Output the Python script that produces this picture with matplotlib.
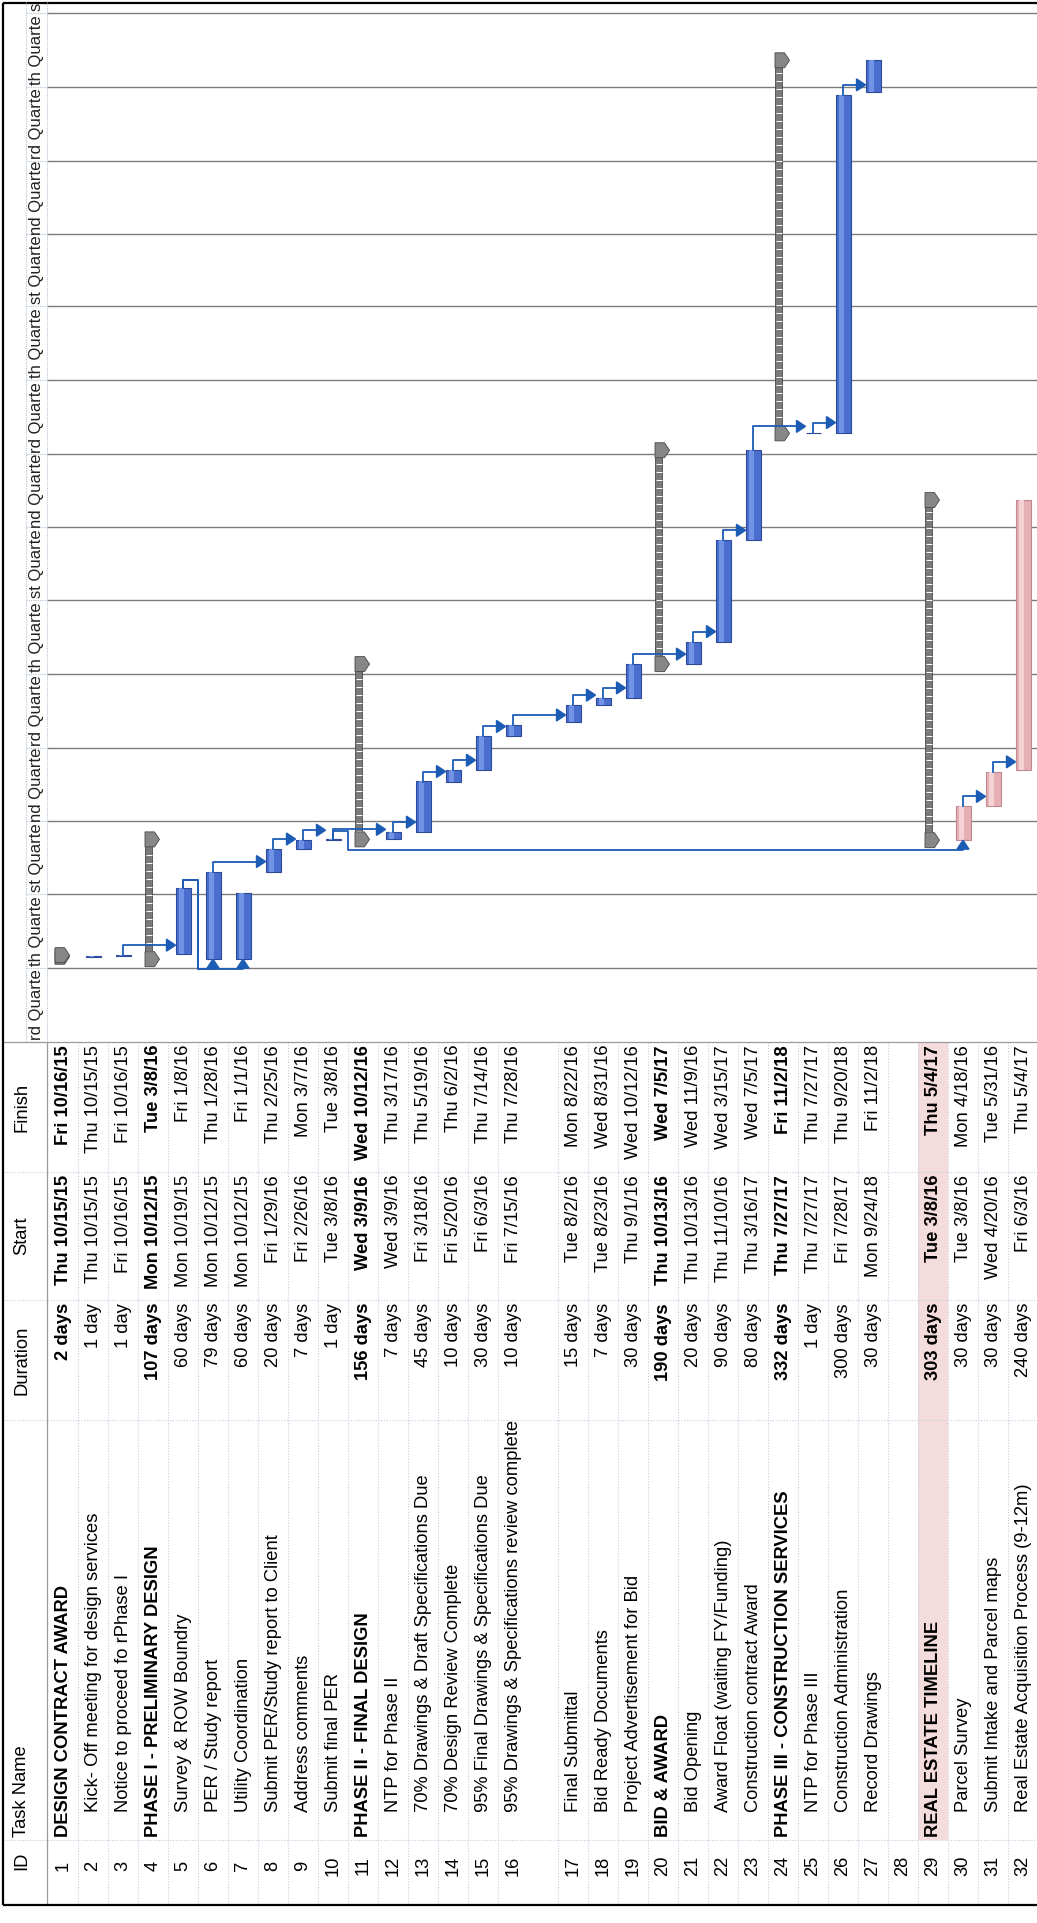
import datetime as dt
import matplotlib
matplotlib.use("Agg")
import matplotlib.pyplot as plt
import matplotlib.dates as mdates
import pandas as pd
from matplotlib.patches import Polygon, Rectangle

plt.rcParams['font.family'] = ['Liberation Sans', 'DejaVu Sans']

# ---------------- data ----------------
task_ids = list(range(1, 33))
task_names = [
    "DESIGN CONTRACT AWARD",
    "Kick- Off meeting for design services",
    "Notice to proceed fo rPhase I",
    "PHASE I - PRELIMINARY DESIGN",
    "Survey & ROW Boundry",
    "PER / Study report",
    "Utility Coordination",
    "Submit PER/Study report to Client",
    "Address comments",
    "Submit final PER",
    "PHASE II - FINAL DESIGN",
    "NTP for Phase II",
    "70% Drawings & Draft Specifications Due",
    "70% Design Review Complete",
    "95% Final Drawings & Specifications Due",
    "95% Drawings & Specifications review complete",
    "Final Submittal",
    "Bid Ready Documents",
    "Project Advertisement for Bid",
    "BID & AWARD",
    "Bid Opening",
    "Award Float (waiting FY/Funding)",
    "Construction contract Award",
    "PHASE III - CONSTRUCTION SERVICES",
    "NTP for Phase III",
    "Construction Administration",
    "Record Drawings",
    "",
    "REAL ESTATE TIMELINE",
    "Parcel Survey",
    "Submit Intake and Parcel maps",
    "Real Estate Acquisition Process (9-12m)",
]
durations = ["2 days", "1 day", "1 day", "107 days", "60 days", "79 days", "60 days",
             "20 days", "7 days", "1 day", "156 days", "7 days", "45 days", "10 days",
             "30 days", "10 days", "15 days", "7 days", "30 days", "190 days", "20 days",
             "90 days", "80 days", "332 days", "1 day", "300 days", "30 days", "",
             "303 days", "30 days", "30 days", "240 days"]
starts = ["Thu 10/15/15", "Thu 10/15/15", "Fri 10/16/15", "Mon 10/12/15", "Mon 10/19/15",
          "Mon 10/12/15", "Mon 10/12/15", "Fri 1/29/16", "Fri 2/26/16", "Tue 3/8/16",
          "Wed 3/9/16", "Wed 3/9/16", "Fri 3/18/16", "Fri 5/20/16", "Fri 6/3/16",
          "Fri 7/15/16", "Tue 8/2/16", "Tue 8/23/16", "Thu 9/1/16", "Thu 10/13/16",
          "Thu 10/13/16", "Thu 11/10/16", "Thu 3/16/17", "Thu 7/27/17", "Thu 7/27/17",
          "Fri 7/28/17", "Mon 9/24/18", "", "Tue 3/8/16", "Tue 3/8/16", "Wed 4/20/16",
          "Fri 6/3/16"]
finishes = ["Fri 10/16/15", "Thu 10/15/15", "Fri 10/16/15", "Tue 3/8/16", "Fri 1/8/16",
            "Thu 1/28/16", "Fri 1/1/16", "Thu 2/25/16", "Mon 3/7/16", "Tue 3/8/16",
            "Wed 10/12/16", "Thu 3/17/16", "Thu 5/19/16", "Thu 6/2/16", "Thu 7/14/16",
            "Thu 7/28/16", "Mon 8/22/16", "Wed 8/31/16", "Wed 10/12/16", "Wed 7/5/17",
            "Wed 11/9/16", "Wed 3/15/17", "Wed 7/5/17", "Fri 11/2/18", "Thu 7/27/17",
            "Thu 9/20/18", "Fri 11/2/18", "", "Thu 5/4/17", "Mon 4/18/16", "Tue 5/31/16",
            "Thu 5/4/17"]
summary_ids = [1, 4, 11, 20, 24, 29]
real_estate_ids = [30, 31, 32]
highlight_ids = [29]
links = [(3, 5), (5, 6), (5, 7), (6, 8), (8, 9), (9, 10), (10, 12), (10, 30),
         (12, 13), (13, 14), (14, 15), (15, 16), (16, 17), (17, 18), (18, 19),
         (19, 21), (21, 22), (22, 23), (23, 25), (25, 26), (26, 27), (30, 31), (31, 32)]
quarter_names = ["1st Quarter", "2nd Quarter", "3rd Quarter", "4th Quarter"]
view_start = dt.datetime(2015, 7, 1)
view_end = dt.datetime(2019, 1, 17)

# ---------------- layout ----------------
W, H = 1037, 1923
CHART_BOTTOM = 1042
TABLE_BOTTOM = 1905
HDR = 47
FS = 13.2
LINK = '#1c5cb4'


def dnum(s):
    return mdates.date2num(dt.datetime.strptime(s, "%a %m/%d/%y"))


start_num = [dnum(s) if s else None for s in starts]
fin_num = [dnum(s) if s else None for s in finishes]

row_top = []
y = 48
for tid in task_ids:
    row_top.append(y)
    y += 60 if tid == 16 else 30
row_bounds = row_top + [y]
row_ctr = [t + 15 for t in row_top]

fig = plt.figure(figsize=(W / 100, H / 100), dpi=100)
fig.patch.set_facecolor('white')

axp = fig.add_axes([0, 0, 1, 1])
axp.set_xlim(0, W)
axp.set_ylim(H, 0)
axp.axis('off')

ax = fig.add_axes([0, 1 - CHART_BOTTOM / H, 1, CHART_BOTTOM / H])
d0, d1 = mdates.date2num(view_start), mdates.date2num(view_end)
ax.set_xlim(0, W)
ax.set_ylim(d0, d1)
ax.axis('off')
ax.patch.set_alpha(0)
DPD = (d1 - d0) / CHART_BOTTOM   # days per pixel

# ---------------- timescale strip + gridlines ----------------
qb = pd.date_range("2015-07-01", "2019-04-01", freq="QS")
qn = mdates.date2num(qb.to_pydatetime())
ax.hlines(qn[1:], HDR, W, colors='#7c7c7c', lw=1.0, zorder=1)
ax.hlines(qn, 26, HDR, colors='#b7c4d6', lw=0.8, linestyles=(0, (1, 1)))
ax.vlines([26, HDR], d0, d1, colors='#b7c4d6', lw=0.8, linestyles=(0, (1, 1)))
for qs, qe, q in zip(qn[:-1], qn[1:], qb[:-1]):
    # the cell is narrower than its label, so only the middle of it shows
    label = quarter_names[(q.month - 1) // 3][1:-1]
    if qe <= d1:
        ax.text(36.5, (qs + qe) / 2, label, rotation=90, rotation_mode='anchor',
                ha='center', va='center', fontsize=12, color='#222222')
    else:
        # last cell is cut by the top edge: only its first letter shows
        ax.text(36.5, qs + 1.5 * DPD, label[:1], rotation=90, rotation_mode='anchor',
                ha='left', va='center', fontsize=12, color='#222222')

# ---------------- bars ----------------
for i, tid in enumerate(task_ids):
    if start_num[i] is None:
        continue
    s, e = start_num[i], fin_num[i] + 1
    c = row_ctr[i]
    if tid in summary_ids:
        ax.bar(c - 4.5, e - s, width=7, bottom=s, color='#7a7a7a',
               edgecolor='#474747', lw=0.6, zorder=3)
        n = int((e - s) / (8 * DPD))
        if n > 1:
            ys = [s + (k + 1) * 8 * DPD for k in range(n - 1)]
            ax.plot([c - 4.5] * len(ys), ys, ls='none', marker='_', ms=4,
                    mew=0.7, color='white', zorder=4)
        hh = 7.5 * DPD
        for yc in (s, e):
            ax.add_patch(Polygon([(c - 8, yc - hh), (c + 1.5, yc - hh), (c + 6.5, yc),
                                  (c + 1.5, yc + hh), (c - 8, yc + hh)], closed=True,
                                 facecolor='#878787', edgecolor='#474747', lw=0.6,
                                 zorder=4))
    else:
        if tid in real_estate_ids:
            face, edge, hi = '#e6afb4', '#c08890', '#f4d2d5'
        else:
            face, edge, hi = '#4a6ecd', '#2b4a9c', '#7193e6'
        ax.bar(c, e - s, width=15, bottom=s, color=face, edgecolor=edge, lw=0.8,
               zorder=3)
        ax.bar(c - 1.5, e - s, width=5, bottom=s, color=hi, lw=0, zorder=3.5)

# ---------------- dependency links ----------------
for p, q in links:
    ip, iq = p - 1, q - 1
    xp, xs = row_ctr[ip], row_ctr[iq]
    top_p = fin_num[ip] + 1
    bot_s = start_num[iq]
    if bot_s >= top_p - 0.01:
        level = max(top_p + 10 * DPD, bot_s + 7 * DPD)
        tip = xs - 7.5
        ax.plot([xp, xp, tip - 8], [top_p, level, level], color=LINK, lw=1.3, zorder=5)
        ax.add_patch(Polygon([(tip, level), (tip - 9, level + 6 * DPD),
                              (tip - 9, level - 6 * DPD)], closed=True,
                             color=LINK, zorder=5))
    else:
        # successor starts before predecessor ends: route round below it
        y1 = top_p + 8 * DPD
        xm = xp + 15
        y2 = bot_s - 10 * DPD
        ax.plot([xp, xp, xm, xm, xs, xs], [top_p, y1, y1, y2, y2, bot_s - 8 * DPD],
                color=LINK, lw=1.3, zorder=5)
        ax.add_patch(Polygon([(xs, bot_s), (xs - 6, bot_s - 9 * DPD),
                              (xs + 6, bot_s - 9 * DPD)], closed=True,
                             color=LINK, zorder=5))

# ---------------- table ----------------
for i, tid in enumerate(task_ids):
    if tid in highlight_ids:
        axp.add_patch(Rectangle((row_top[i], CHART_BOTTOM), 30, 1840 - CHART_BOTTOM,
                                facecolor='#f4dcdd', edgecolor='none', zorder=0))

axp.vlines(row_bounds[1:], CHART_BOTTOM, TABLE_BOTTOM, colors='#c3cedd', lw=0.8,
           linestyles=(0, (1, 1.5)))
axp.hlines([1172, 1300, 1420, 1840], 3, W, colors='#c3cedd', lw=0.8,
           linestyles=(0, (1, 1.5)))
axp.vlines(HDR, CHART_BOTTOM, TABLE_BOTTOM, colors='#9a9a9a', lw=0.9)
axp.hlines(CHART_BOTTOM, 3, W, colors='#9a9a9a', lw=0.9)
axp.vlines(3, 3, TABLE_BOTTOM, colors='black', lw=1.6)
axp.hlines([3, TABLE_BOTTOM], 3, W, colors='black', lw=1.6)

txt = dict(rotation=90, rotation_mode='anchor', va='center', fontsize=FS, color='black')
axp.text(22, 1107, "Finish", ha='center', **txt)
axp.text(22, 1236, "Start", ha='center', **txt)
axp.text(22, 1360, "Duration", ha='center', **txt)
axp.text(22, 1837, "Task Name", ha='left', **txt)
axp.text(22, 1861, "ID", ha='center', **txt)

for i, tid in enumerate(task_ids):
    x = row_ctr[i]
    w = 'bold' if tid in summary_ids else 'normal'
    axp.text(x, 1866, str(tid), ha='center', **txt)
    if task_names[i]:
        ny = 1837 if tid in summary_ids else 1812
        axp.text(x, ny, task_names[i], ha='left', fontweight=w, **txt)
    if durations[i]:
        axp.text(x, 1303, durations[i], ha='right', fontweight=w, **txt)
    if starts[i]:
        axp.text(x, 1175, starts[i], ha='right', fontweight=w, **txt)
    if finishes[i]:
        axp.text(x, 1045, finishes[i], ha='right', fontweight=w, **txt)

fig.savefig("out.png", dpi=100)
